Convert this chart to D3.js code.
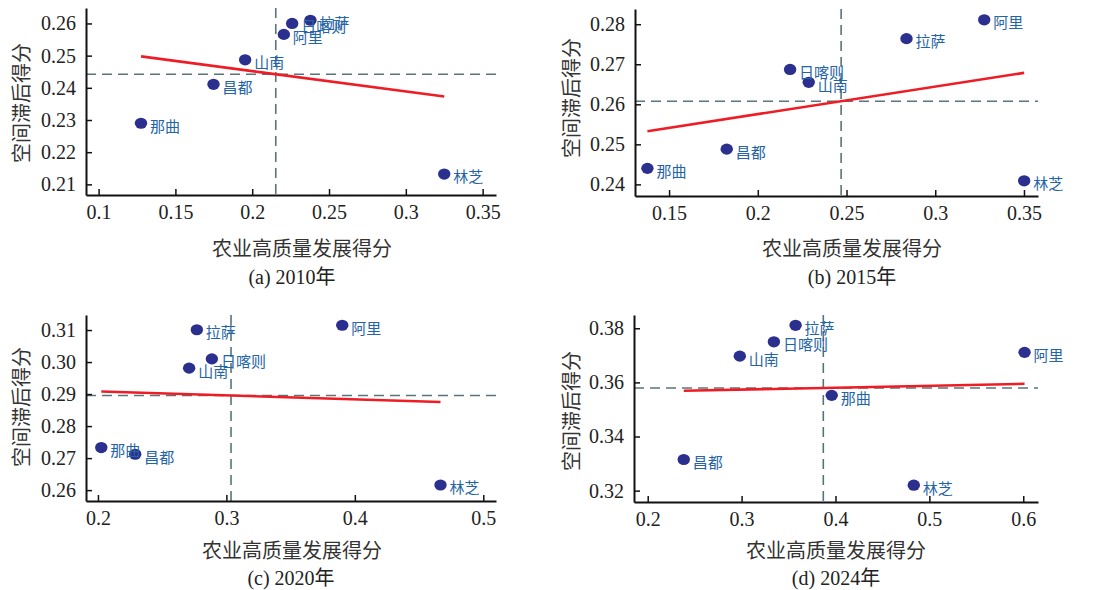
<!DOCTYPE html>
<html lang="zh">
<head>
<meta charset="UTF-8">
<title>scatter panels</title>
<style>
  body { margin: 0; background: #fff; }
  #canvas { width: 1096px; height: 590px; }
  .domain { stroke: #111; stroke-width: 2px; }
  .tick line { stroke: #111; stroke-width: 1.5px; }
  .tick text { font-family: "Liberation Serif", "Times New Roman", serif; font-size: 20px; fill: #222; }
  .dot { fill: #2b2f8e; }
  .lbl { font-family: "Noto Sans CJK SC", sans-serif; font-size: 15px; fill: #2464a4; }
  .mean { stroke: #5b7479; stroke-width: 1.6px; stroke-dasharray: 10,6; fill: none; }
  .fit { stroke: #ee1c25; stroke-width: 2.6px; fill: none; }
  .ttl { font-family: "Noto Sans CJK SC", sans-serif; font-size: 20px; fill: #333; }
  .cap { font-family: "Liberation Serif", "Noto Sans CJK SC", serif; font-size: 20px; fill: #222; }
</style>
<script src="https://cdn.jsdelivr.net/npm/d3@7"></script>
</head>
<body>
<div id="canvas"></div>
<script>
// data
var cities = ["拉萨", "日喀则", "昌都", "林芝", "山南", "那曲", "阿里"];

var x2010 = [0.2379, 0.2260, 0.1748, 0.3250, 0.1954, 0.1276, 0.2206];
var y2010 = [0.2610, 0.2600, 0.2411, 0.2132, 0.2487, 0.2290, 0.2566];

var x2015 = [0.2838, 0.2182, 0.1825, 0.3501, 0.2287, 0.1378, 0.3276];
var y2015 = [0.2764, 0.2687, 0.2488, 0.2409, 0.2655, 0.2440, 0.2811];

var x2020 = [0.2770, 0.2887, 0.2290, 0.4667, 0.2710, 0.2026, 0.3902];
var y2020 = [0.3101, 0.3010, 0.2712, 0.2616, 0.2981, 0.2733, 0.3115];

var x2024 = [0.3575, 0.3344, 0.2384, 0.4834, 0.2981, 0.3960, 0.6014];
var y2024 = [0.3811, 0.3750, 0.3315, 0.3220, 0.3697, 0.3552, 0.3711];

var xTicks2010 = [0.1, 0.15, 0.2, 0.25, 0.3, 0.35];
var yTicks2010 = [0.21, 0.22, 0.23, 0.24, 0.25, 0.26];
var xTicks2015 = [0.15, 0.2, 0.25, 0.3, 0.35];
var yTicks2015 = [0.24, 0.25, 0.26, 0.27, 0.28];
var xTicks2020 = [0.2, 0.3, 0.4, 0.5];
var yTicks2020 = [0.26, 0.27, 0.28, 0.29, 0.30, 0.31];
var xTicks2024 = [0.2, 0.3, 0.4, 0.5, 0.6];
var yTicks2024 = [0.32, 0.34, 0.36, 0.38];

var captions = ["(a) 2010年", "(b) 2015年", "(c) 2020年", "(d) 2024年"];
var xTitle = "农业高质量发展得分";
var yTitle = "空间滞后得分";

// panel boxes (page pixels) and axis domains
var panels = [
  {xs: x2010, ys: y2010, xt: xTicks2010, yt: yTicks2010, cap: captions[0],
   left: 86, top: 8, w: 410, h: 187, xd: [0.0918, 0.3587], yd: [0.2067, 0.2648],
   tx: 302, ty: 247, cx: 292, cy: 277, ytx: 20, yty: 103},
  {xs: x2015, ys: y2015, xt: xTicks2015, yt: yTicks2015, cap: captions[1],
   left: 635, top: 9, w: 403, h: 187, xd: [0.1308, 0.3579], yd: [0.2371, 0.2838],
   tx: 852, ty: 247, cx: 852, cy: 277, ytx: 570, yty: 98},
  {xs: x2020, ys: y2020, xt: xTicks2020, yt: yTicks2020, cap: captions[2],
   left: 86, top: 315, w: 410, h: 186, xd: [0.1907, 0.5099], yd: [0.2566, 0.3147],
   tx: 292, ty: 549, cx: 291, cy: 578, ytx: 20, yty: 407},
  {xs: x2024, ys: y2024, xt: xTicks2024, yt: yTicks2024, cap: captions[3],
   left: 634, top: 315, w: 404, h: 187, xd: [0.1854, 0.6157], yd: [0.3158, 0.3849],
   tx: 836, ty: 549, cx: 836, cy: 578, ytx: 570, yty: 411}
];

var svg = d3.select("#canvas").append("svg")
  .attr("width", 1096)
  .attr("height", 590);

function fmt(v) { return String(+v.toFixed(2)); }

panels.forEach(function(p, idx) {
  var x = d3.scaleLinear().domain(p.xd).range([0, p.w]);
  var y = d3.scaleLinear().domain(p.yd).range([p.h, 0]);

  var g = svg.append("g")
    .attr("transform", "translate(" + p.left + "," + p.top + ")");

  var pts = cities.map(function(c, i) { return {name: c, x: p.xs[i], y: p.ys[i]}; });

  // mean lines
  var mx = d3.mean(p.xs), my = d3.mean(p.ys);
  g.append("line").attr("class", "mean")
    .attr("x1", x(mx)).attr("x2", x(mx)).attr("y1", 0).attr("y2", p.h);
  g.append("line").attr("class", "mean")
    .attr("x1", 0).attr("x2", p.w).attr("y1", y(my)).attr("y2", y(my));

  // least squares line over data range
  var sxy = d3.sum(pts, function(d) { return (d.x - mx) * (d.y - my); });
  var sxx = d3.sum(pts, function(d) { return (d.x - mx) * (d.x - mx); });
  var b = sxy / sxx, a = my - b * mx;
  var ext = d3.extent(p.xs);
  g.append("line").attr("class", "fit")
    .attr("x1", x(ext[0])).attr("y1", y(a + b * ext[0]))
    .attr("x2", x(ext[1])).attr("y2", y(a + b * ext[1]));

  // axes
  var yFmt = (idx === 1 || idx === 0 || idx === 2 || idx === 3) ? d3.format(".2f") : fmt;
  g.append("g")
    .attr("transform", "translate(0," + p.h + ")")
    .call(d3.axisBottom(x).tickValues(p.xt).tickFormat(fmt).tickSizeInner(-6).tickSizeOuter(0).tickPadding(10));
  g.append("g")
    .call(d3.axisLeft(y).tickValues(p.yt).tickFormat(yFmt).tickSizeInner(-6).tickSizeOuter(0).tickPadding(10));

  // points and labels
  g.selectAll(".dot").data(pts).enter().append("ellipse")
    .attr("class", "dot")
    .attr("cx", function(d) { return x(d.x); })
    .attr("cy", function(d) { return y(d.y); })
    .attr("rx", 6.2).attr("ry", 5.6);
  g.selectAll(".lbl").data(pts).enter().append("text")
    .attr("class", "lbl")
    .attr("x", function(d) { return x(d.x) + 9; })
    .attr("y", function(d) { return y(d.y) + 3; })
    .attr("dy", "0.36em")
    .text(function(d) { return d.name; });

  // titles
  svg.append("text").attr("class", "ttl")
    .attr("x", p.tx).attr("y", p.ty)
    .attr("text-anchor", "middle").attr("dominant-baseline", "central")
    .text(xTitle);
  svg.append("text").attr("class", "cap")
    .attr("x", p.cx).attr("y", p.cy)
    .attr("text-anchor", "middle").attr("dominant-baseline", "central")
    .text(p.cap);
  svg.append("text").attr("class", "ttl")
    .attr("transform", "translate(" + p.ytx + "," + p.yty + ") rotate(-90)")
    .attr("text-anchor", "middle").attr("dominant-baseline", "central")
    .text(yTitle);
});
</script>
</body>
</html>
